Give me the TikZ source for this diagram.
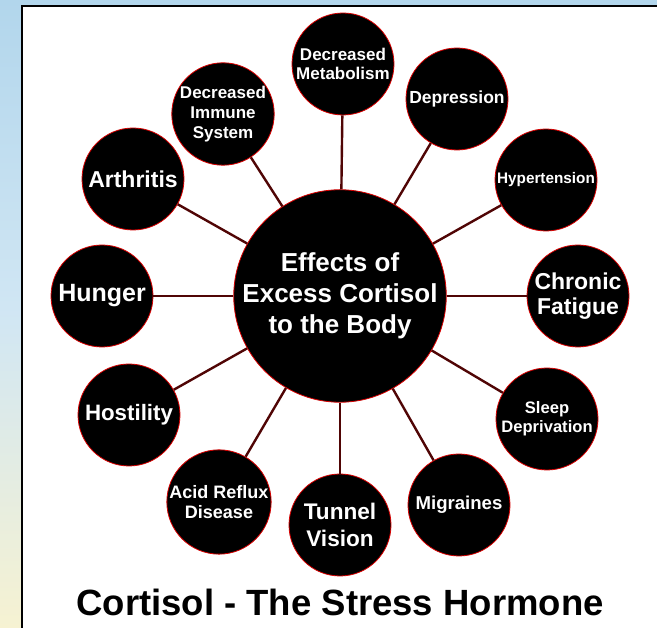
\documentclass[tikz,border=0pt]{standalone}
\usepackage{fontspec}
\setmainfont{Liberation Sans}
\definecolor{bgblue}{RGB}{178,214,236}
\definecolor{bgyellow}{RGB}{246,242,210}
\definecolor{linkred}{RGB}{80,5,5}
\newcommand{\fs}[2]{\fontsize{#1}{#2}\selectfont}
\tikzset{
  sat/.style={circle, fill=black, draw=red!85!black, line width=0.8pt, minimum size=102pt, inner sep=0pt, text=white, align=center},
  hub/.style={circle, fill=black, draw=red!85!black, line width=0.8pt, minimum size=206pt, inner sep=0pt, text=white, align=center, font=\bfseries\fs{26}{31}},
  link/.style={draw=linkred, line width=2.4pt},
  sz/.style 2 args={font=\bfseries\fs{#1}{#2}}
}
\begin{document}
\begin{tikzpicture}[x=1pt,y=1pt]
\useasboundingbox (0,0) rectangle (657,628);
% background
\shade[top color=bgblue, bottom color=bgyellow, middle color=bgblue!60!white] (0,0) rectangle (21,628);
\fill[bgblue] (0,622) rectangle (657,628);
\fill[white] (21,0) rectangle (657,622);
\draw[line width=2pt] (22,0) -- (22,622) -- (657,622);
% nodes
\node[hub] (C) at (340,332) {Effects of\\Excess Cortisol\\to the Body};
\node[sat, sz={17}{19}] (met) at (343,564) {Decreased\\Metabolism};
\node[sat, sz={17}{20}] (imm) at (223,514) {Decreased\\Immune\\System};
\node[sat, sz={17.5}{20}] (dep) at (457,529) {Depression};
\node[sat, sz={15.3}{18}] (hyp) at (546,448) {Hypertension};
\node[sat, sz={23}{25}] (chr) at (578,332) {Chronic\\Fatigue};
\node[sat, sz={16.6}{19}] (slp) at (547,209) {Sleep\\Deprivation};
\node[sat, sz={18.6}{21}] (mig) at (459,123) {Migraines};
\node[sat, sz={22.6}{27}] (tun) at (340,103) {Tunnel\\Vision};
\node[sat, sz={18}{20}] (acid) at (219,126) {Acid Reflux\\Disease};
\node[sat, sz={22.3}{26}] (hos) at (129,213) {Hostility};
\node[sat, sz={25}{28}] (hun) at (102,332) {Hunger};
\node[sat, sz={23}{26}] (art) at (133,449) {Arthritis};
% links
\foreach \s in {met,imm,dep,hyp,chr,slp,mig,tun,acid,hos,hun,art}
  \draw[link] (C) -- (\s);
% title
\node[font=\bfseries\fs{36.5}{40}, text=black] (title) at (340,26) {Cortisol - The Stress Hormone};
\end{tikzpicture}
\end{document}
